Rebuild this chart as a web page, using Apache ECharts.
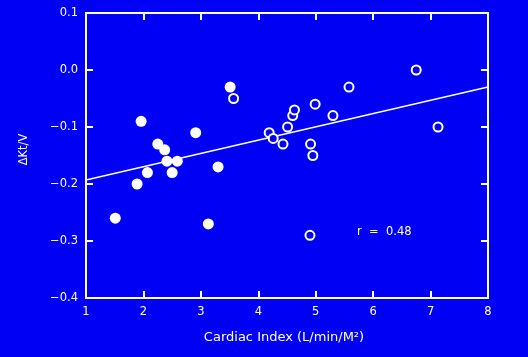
<!DOCTYPE html>
<html><head><meta charset="utf-8">
<script src="https://cdn.jsdelivr.net/npm/echarts@6/dist/echarts.min.js"></script>
<style>html,body{margin:0;padding:0;background:#0000f5}#c{width:528px;height:357px}</style>
</head><body><div id="c"></div><script>
// Filled circles
const filledX = [1.51, 1.89, 1.96, 2.07, 2.25, 2.37, 2.41, 2.50, 2.59, 2.91, 3.13, 3.30, 3.51];
const filledY = [-0.26, -0.20, -0.09, -0.18, -0.13, -0.14, -0.16, -0.18, -0.16, -0.11, -0.27, -0.17, -0.03];
// Open circles
const openX = [3.57, 4.19, 4.26, 4.43, 4.51, 4.60, 4.63, 4.90, 4.91, 4.95, 4.99, 5.30, 5.58, 6.75, 7.13];
const openY = [-0.05, -0.11, -0.12, -0.13, -0.10, -0.08, -0.07, -0.29, -0.13, -0.15, -0.06, -0.08, -0.03, 0.00, -0.10];
// Regression line end points
const lineX = [1, 8];
const lineY = [-0.193, -0.030];
const xTicks = [1, 2, 3, 4, 5, 6, 7, 8];
const yTicks = [-0.4, -0.3, -0.2, -0.1, 0.0, 0.1];
const rText = 'r  =  0.48';

const zip = (a, b) => a.map((v, i) => [v, b[i]]);
const FONT = 'DejaVu Sans';
const fmtY = v => (v < 0 ? '\u2212' : '') + Math.abs(v).toFixed(1);

const chart = echarts.init(document.getElementById('c'), null, {renderer: 'canvas'});
const axisCommon = () => ({
  axisLine: {show: true, onZero: false, lineStyle: {color: '#ffffff', width: 2}},
  axisTick: {show: true, inside: true, length: 7, lineStyle: {color: '#ffffff', width: 2}},
  splitLine: {show: false}
});
chart.setOption({
  backgroundColor: '#0000f5',
  animation: false,
  grid: {left: 86, right: 40, top: 13, bottom: 59},
  xAxis: [
    Object.assign({
      type: 'value', min: xTicks[0], max: xTicks[xTicks.length - 1], interval: 1, position: 'bottom',
      name: 'Cardiac Index (L/min/M\u00b2)', nameLocation: 'middle', nameGap: 33,
      nameTextStyle: {color: '#ffffff', fontFamily: FONT, fontSize: 13, padding: [0, 0, 0, -6]},
      axisLabel: {color: '#ffffff', fontFamily: FONT, fontSize: 11.5, margin: 8}
    }, axisCommon()),
    Object.assign({
      type: 'value', min: xTicks[0], max: xTicks[xTicks.length - 1], interval: 1, position: 'top',
      axisLabel: {show: false}
    }, axisCommon())
  ],
  yAxis: [
    Object.assign({
      type: 'value', min: yTicks[0], max: yTicks[yTicks.length - 1], interval: 0.1, position: 'left',
      name: '\u0394Kt/V', nameLocation: 'middle', nameGap: 56, nameRotate: 90,
      nameTextStyle: {color: '#ffffff', fontFamily: FONT, fontSize: 11.5, padding: [0, 0, 0, 12]},
      axisLabel: {color: '#ffffff', fontFamily: FONT, fontSize: 11.5, margin: 8, formatter: fmtY}
    }, axisCommon()),
    Object.assign({
      type: 'value', min: yTicks[0], max: yTicks[yTicks.length - 1], interval: 0.1, position: 'right',
      axisLabel: {show: false}
    }, axisCommon())
  ],
  series: [
    {
      type: 'line', data: zip(lineX, lineY), symbol: 'none',
      lineStyle: {color: '#ffffff', width: 1.5}, z: 1
    },
    {
      type: 'scatter', data: zip(filledX, filledY), symbol: 'circle', symbolSize: 11,
      itemStyle: {color: '#ffffff', opacity: 1}, z: 3
    },
    {
      type: 'scatter', data: zip(openX, openY), symbol: 'circle', symbolSize: 9,
      itemStyle: {color: '#0000f5', borderColor: '#ffffff', borderWidth: 2, opacity: 1}, z: 3
    }
  ],
  graphic: [{
    type: 'text', left: 357, top: 226,
    style: {text: rText, fill: '#ffffff', font: '11.5px "DejaVu Sans"'}
  }]
});
</script></body></html>
